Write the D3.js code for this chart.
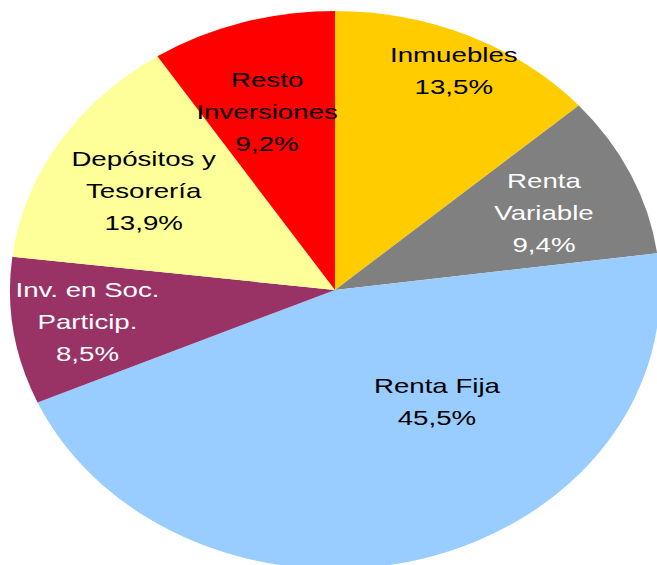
<!DOCTYPE html>
<html>
<head>
<meta charset="utf-8">
<script src="https://cdn.jsdelivr.net/npm/d3@7"></script>
<style>
	body { margin: 0; background: #ffffff; }
	svg { display: block; }
	.lbl { font-family: "Liberation Sans", Arial, sans-serif; font-size: 20.5px; }
</style>
</head>
<body>
<script>
"use strict";

// Chart data

let categories = ["Inmuebles", "Renta|Variable", "Renta Fija", "Inv. en Soc.|Particip.", "Depósitos y|Tesorería", "Resto|Inversiones"];
let values = [13.5, 9.4, 45.5, 8.5, 13.9, 9.2];
let colors = ["#ffcc00", "#808080", "#99ccff", "#993366", "#ffff99", "#ff0000"];
let textColors = ["#000000", "#ffffff", "#000000", "#ffffff", "#000000", "#000000"];

// Label placement: [angle shift from mid-angle (deg), radius fraction]
let labelLayout = [[0.7, 0.865], [1.2, 0.70], [-22.3, 0.51], [0, 0.77], [-0.7, 0.688], [-1.6, 0.67]];

function init() {

	let width = 657,
		height = 565;

	let cx = 335,
		cy = 290,
		rx = 325,
		ry = 279;

	let svg = d3.select("body")
		.append("svg")
			.attr("width", width)
			.attr("height", height);

	let pieData = d3.pie()
		.sort(null)
		.value(function (d) { return d; })(values);

	let arc = d3.arc()
		.innerRadius(0)
		.outerRadius(ry);

	// pie drawn as a circle, stretched to an ellipse
	let pieGroup = svg.append("g")
		.attr("transform", "translate(" + cx + "," + cy + ") scale(" + (rx / ry) + ",1)");

	pieGroup.selectAll(".slice")
		.data(pieData)
		.enter()
		.append("path")
			.attr("class", "slice")
			.attr("d", arc)
			.style("fill", function (d, i) { return colors[i]; });

	// Data labels

	let xScale = d3.scaleLinear().domain([-1, 1]).range([cx - rx, cx + rx]);
	let yScale = d3.scaleLinear().domain([-1, 1]).range([cy - ry, cy + ry]);

	let lineGap = 32,
		capShift = 7,
		stretch = 1.35;

	let fmt = function (v) { return d3.format(".1f")(v).replace(".", ",") + "%"; };

	pieData.forEach(function (d, i) {

		let mid = (d.startAngle + d.endAngle) / 2 + labelLayout[i][0] * Math.PI / 180,
			r = labelLayout[i][1];

		let x = xScale(r * Math.sin(mid)),
			y = yScale(-r * Math.cos(mid));

		let lines = categories[i].split("|").concat([fmt(values[i])]);

		let g = svg.append("g")
			.attr("transform", "translate(" + x + "," + y + ") scale(" + stretch + ",1)");

		let txt = g.append("text")
			.attr("class", "lbl")
			.attr("text-anchor", "middle")
			.style("fill", textColors[i]);

		lines.forEach(function (line, k) {
			txt.append("tspan")
				.attr("x", 0)
				.attr("y", (k - (lines.length - 1) / 2) * lineGap + capShift)
				.text(line);
		});
	});
};

init();
</script>
</body>
</html>
